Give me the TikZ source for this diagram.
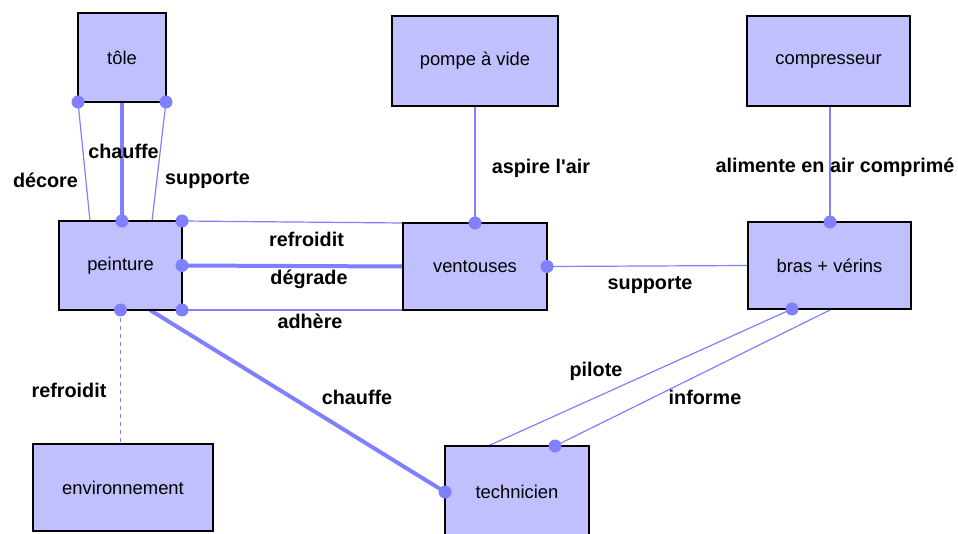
\documentclass[tikz,border=0pt]{standalone}
\usepackage{fontspec}
\setmainfont{Liberation Sans}
\usetikzlibrary{backgrounds}
\definecolor{boxfill}{RGB}{192,192,255}
\definecolor{linkc}{RGB}{128,128,255}
\tikzset{
  ent/.style={draw=black, line width=2.5pt, fill=boxfill, outer sep=0pt, inner sep=0pt,
    font=\fontsize{18.4}{20}\selectfont},
  lbl/.style={font=\bfseries\fontsize{19.8}{21}\selectfont, inner sep=0pt},
  thinlink/.style={draw=linkc, line width=1.2pt},
  thicklink/.style={draw=linkc, line width=4pt},
  dashlink/.style={draw=linkc, line width=1.2pt, dash pattern=on 4pt off 4pt},
  dot/.style={fill=linkc}
}
\begin{document}
\begin{tikzpicture}[x=1pt,y=-1pt]
\useasboundingbox (0,0) rectangle (958,534);
% entities
\node[ent, minimum width=88pt, minimum height=89pt] (tole) at (122,57.5) {tôle};
\node[ent, minimum width=123pt, minimum height=89pt] (peinture) at (120.5,265.5) {peinture};
\node[ent, minimum width=166pt, minimum height=90pt] (pompe) at (475,61) {pompe à vide};
\node[ent, minimum width=163pt, minimum height=90pt] (compresseur) at (828.5,61) {compresseur};
\node[ent, minimum width=144pt, minimum height=87pt] (ventouses) at (475,266.5) {ventouses};
\node[ent, minimum width=163pt, minimum height=87pt] (bras) at (829.5,265.5) {bras + vérins};
\node[ent, minimum width=180pt, minimum height=87pt] (environnement) at (123,487.5) {environnement};
\node[ent, minimum width=144pt, minimum height=92pt] (technicien) at (517,492) {technicien};
% connection points
\coordinate (pDec) at ([xshift=31pt]peinture.north west);
\coordinate (pSup) at ([xshift=-30pt]peinture.north east);
\coordinate (pCh) at (tole.south |- peinture.north);
\coordinate (pLow) at ([xshift=-32pt]peinture.south east);
\coordinate (pEnv) at (peinture.south);
\coordinate (eTop) at (pEnv |- environnement.north);
\coordinate (vTop) at (pompe.south |- ventouses.north);
\coordinate (cBot) at ([xshift=1.5pt]compresseur.south);
\coordinate (bTop) at (cBot |- bras.north);
\coordinate (bPil) at ([xshift=44pt]bras.south west);
\coordinate (bInf) at ([xshift=84pt]bras.south west);
\coordinate (tPil) at ([xshift=43pt]technicien.north west);
\coordinate (tInf) at ([xshift=110pt]technicien.north west);
% connectors
\begin{scope}[on background layer]
\draw[thinlink] (tole.south west) -- (pDec);
\draw[thicklink] (tole.south) -- (pCh);
\draw[thinlink] (tole.south east) -- (pSup);
\draw[thinlink] (peinture.north east) -- (ventouses.north west);
\draw[thicklink] (peinture.east) -- (ventouses.west);
\draw[thinlink] (peinture.south east) -- (ventouses.south west);
\draw[thinlink] (pompe.south) -- (vTop);
\draw[thinlink] (cBot) -- (bTop);
\draw[thinlink] (ventouses.east) -- (bras.west);
\draw[thinlink] (bPil) -- (tPil);
\draw[thinlink] (bInf) -- (tInf);
\draw[thicklink] (pLow) -- (technicien.west);
\draw[dashlink] (pEnv) -- (eTop);
\end{scope}
% dots
\foreach \p in {tole.south west, tole.south east, pCh, peinture.north east, peinture.east,
  peinture.south east, pEnv, vTop, ventouses.east, bTop, bPil, tInf, technicien.west}
  \fill[dot] (\p) circle (6.5pt);
% labels
\node[lbl] (l1) at (45.5,180) {décore};
\node[lbl] (l2) at (123.5,151) {chauffe};
\node[lbl] (l3) at (207.5,180) {supporte};
\node[lbl] (l4) at (306.5,239) {refroidit};
\node[lbl] (l5) at (309,279) {dégrade};
\node[lbl] (l6) at (310,321) {adhère};
\node[lbl] (l7) at (541,168) {aspire l\textquotesingle air};
\node[lbl] (l8) at (835,167) {alimente en air comprimé};
\node[lbl] (l9) at (650,285) {supporte};
\node[lbl] (l10) at (596,371) {pilote};
\node[lbl] (l11) at (705,397) {informe};
\node[lbl] (l12) at (69,390) {refroidit};
\node[lbl] (l13) at (357,397) {chauffe};
\end{tikzpicture}
\end{document}
